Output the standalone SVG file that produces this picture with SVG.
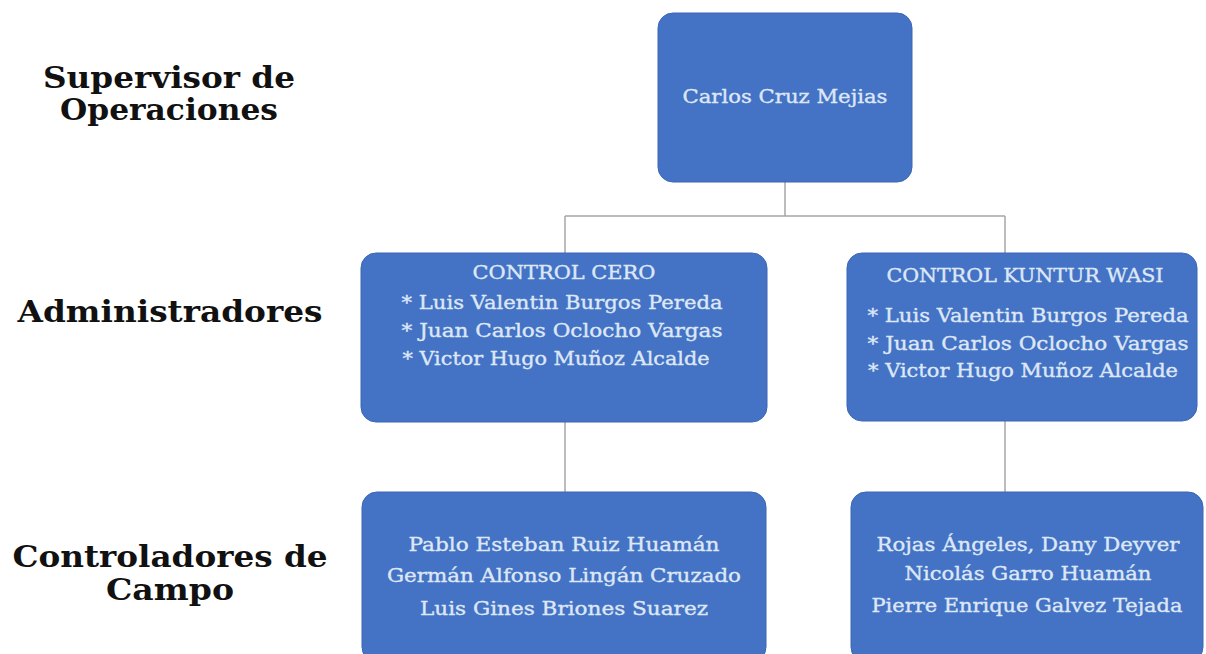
<svg xmlns="http://www.w3.org/2000/svg" width="1206" height="654" viewBox="0 0 1206 654">
<style>
.box{fill:#4472c4;stroke:#3a66b5;stroke-width:1}
.t{font-family:"DejaVu Serif","Liberation Serif",serif;font-size:18px;fill:#dde7f6;stroke:#dde7f6;stroke-width:0.35;text-anchor:middle}
.lbl{font-family:"DejaVu Serif","Liberation Serif",serif;font-size:29px;font-weight:bold;fill:#111;text-anchor:middle}
.c{stroke:#a6a6a6;stroke-width:1.5;fill:none}
</style>
<rect width="1206" height="654" fill="#ffffff"/>
<g id="labels">
<text class="lbl" x="169" y="88" textLength="252" lengthAdjust="spacingAndGlyphs">Supervisor de</text>
<text class="lbl" x="169" y="120" textLength="218" lengthAdjust="spacingAndGlyphs">Operaciones</text>
<text class="lbl" x="170" y="322" textLength="305" lengthAdjust="spacingAndGlyphs">Administradores</text>
<text class="lbl" x="170" y="567" textLength="315" lengthAdjust="spacingAndGlyphs">Controladores de</text>
<text class="lbl" x="170" y="600" textLength="128" lengthAdjust="spacingAndGlyphs">Campo</text>
</g>
<g id="connectors">
<path class="c" d="M785 182 V216 M565 216 H1005 M565 216 V253 M1005 216 V253 M565 422 V492 M1005 421 V492"/>
</g>
<g id="n-supervisor">
<rect class="box" x="658" y="13" width="254" height="169" rx="15"/>
<text class="t" x="785" y="103" textLength="205" lengthAdjust="spacingAndGlyphs">Carlos Cruz Mejias</text>
</g>
<g id="n-control-cero">
<rect class="box" x="361" y="253" width="406" height="169" rx="15"/>
<text class="t" x="564" y="279" textLength="183" lengthAdjust="spacingAndGlyphs">CONTROL CERO</text>
<text class="t" x="562" y="309" textLength="321" lengthAdjust="spacingAndGlyphs">* Luis Valentin Burgos Pereda</text>
<text class="t" x="562" y="337" textLength="321" lengthAdjust="spacingAndGlyphs">* Juan Carlos Oclocho Vargas</text>
<text class="t" x="556" y="365" textLength="307" lengthAdjust="spacingAndGlyphs">* Victor Hugo Muñoz Alcalde</text>
</g>
<g id="n-kuntur-wasi">
<rect class="box" x="847" y="253" width="350" height="168" rx="15"/>
<text class="t" x="1025" y="282" textLength="277" lengthAdjust="spacingAndGlyphs">CONTROL KUNTUR WASI</text>
<text class="t" x="1028" y="322" textLength="321" lengthAdjust="spacingAndGlyphs">* Luis Valentin Burgos Pereda</text>
<text class="t" x="1028" y="350" textLength="321" lengthAdjust="spacingAndGlyphs">* Juan Carlos Oclocho Vargas</text>
<text class="t" x="1023" y="377" textLength="310" lengthAdjust="spacingAndGlyphs">* Victor Hugo Muñoz Alcalde</text>
</g>
<g id="n-campo-cero">
<rect class="box" x="362" y="492" width="404" height="170" rx="15"/>
<text class="t" x="564" y="551" textLength="311" lengthAdjust="spacingAndGlyphs">Pablo Esteban Ruiz Huamán</text>
<text class="t" x="564" y="582" textLength="354" lengthAdjust="spacingAndGlyphs">Germán Alfonso Lingán Cruzado</text>
<text class="t" x="564" y="615" textLength="288" lengthAdjust="spacingAndGlyphs">Luis Gines Briones Suarez</text>
</g>
<g id="n-campo-kuntur">
<rect class="box" x="851" y="492" width="352" height="170" rx="15"/>
<text class="t" x="1028" y="551" textLength="303" lengthAdjust="spacingAndGlyphs">Rojas Ángeles, Dany Deyver</text>
<text class="t" x="1028" y="580" textLength="247" lengthAdjust="spacingAndGlyphs">Nicolás Garro Huamán</text>
<text class="t" x="1027" y="612" textLength="311" lengthAdjust="spacingAndGlyphs">Pierre Enrique Galvez Tejada</text>
</g>
</svg>
